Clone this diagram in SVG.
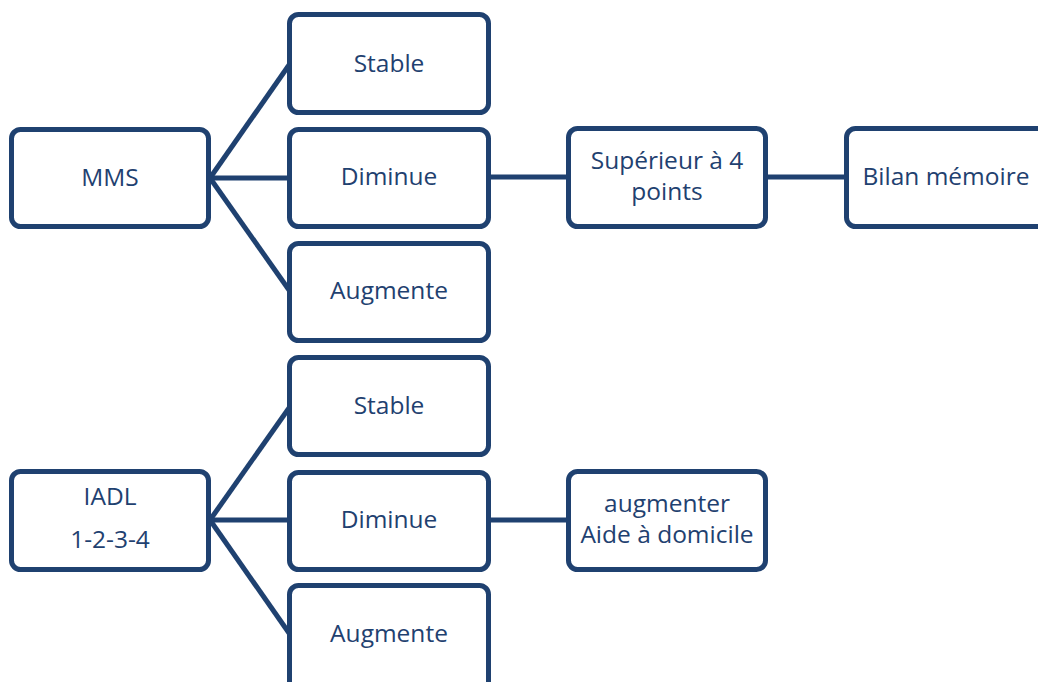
<svg xmlns="http://www.w3.org/2000/svg" width="1038" height="682" viewBox="0 0 1038 682">
<style>
.box{fill:#ffffff;stroke:#1f4170;stroke-width:5}
.ln{stroke:#1f4170;stroke-width:5;fill:none;stroke-linecap:butt}
.t{font-family:"Open Sans","Noto Sans",sans-serif;font-size:24.5px;fill:#1f4170;text-anchor:middle}
</style>
<rect width="1038" height="682" fill="#ffffff"/>
<g id="connectors">
<line class="ln" x1="210" y1="178" x2="289" y2="65"/>
<line class="ln" x1="210" y1="178" x2="289" y2="178"/>
<line class="ln" x1="210" y1="178" x2="289" y2="290"/>
<line class="ln" x1="489" y1="177" x2="568" y2="177"/>
<line class="ln" x1="766" y1="177" x2="846" y2="177"/>
<line class="ln" x1="210" y1="520" x2="289" y2="408"/>
<line class="ln" x1="210" y1="520" x2="289" y2="520"/>
<line class="ln" x1="210" y1="520" x2="289" y2="633"/>
<line class="ln" x1="489" y1="520" x2="568" y2="520"/>
</g>
<g id="mms"><rect class="box" x="11.5" y="129.5" width="197" height="97" rx="9"/><text class="t" x="110" y="186">MMS</text></g>
<g id="stable1"><rect class="box" x="289.5" y="14.5" width="199" height="98" rx="9"/><text class="t" x="389" y="72">Stable</text></g>
<g id="diminue1"><rect class="box" x="289.5" y="129.5" width="199" height="97" rx="9"/><text class="t" x="389" y="185">Diminue</text></g>
<g id="augmente1"><rect class="box" x="289.5" y="243.5" width="199" height="97" rx="9"/><text class="t" x="389" y="299">Augmente</text></g>
<g id="superieur"><rect class="box" x="568.5" y="128.5" width="197" height="98" rx="9"/><text class="t" x="667" y="169">Supérieur à 4</text><text class="t" x="667" y="200">points</text></g>
<g id="bilan"><rect class="box" x="846.5" y="128.5" width="205" height="98" rx="9"/><text class="t" x="946" y="185">Bilan mémoire</text></g>
<g id="iadl"><rect class="box" x="11.5" y="471.5" width="197" height="98" rx="9"/><text class="t" x="110" y="505">IADL</text><text class="t" x="110" y="548">1-2-3-4</text></g>
<g id="stable2"><rect class="box" x="289.5" y="357.5" width="199" height="97" rx="9"/><text class="t" x="389" y="414">Stable</text></g>
<g id="diminue2"><rect class="box" x="289.5" y="472.5" width="199" height="97" rx="9"/><text class="t" x="389" y="528">Diminue</text></g>
<g id="augmente2"><rect class="box" x="289.5" y="585.5" width="199" height="110" rx="9"/><text class="t" x="389" y="642">Augmente</text></g>
<g id="aide"><rect class="box" x="568.5" y="471.5" width="197" height="98" rx="9"/><text class="t" x="667" y="512">augmenter</text><text class="t" x="667" y="543">Aide à domicile</text></g>
</svg>
